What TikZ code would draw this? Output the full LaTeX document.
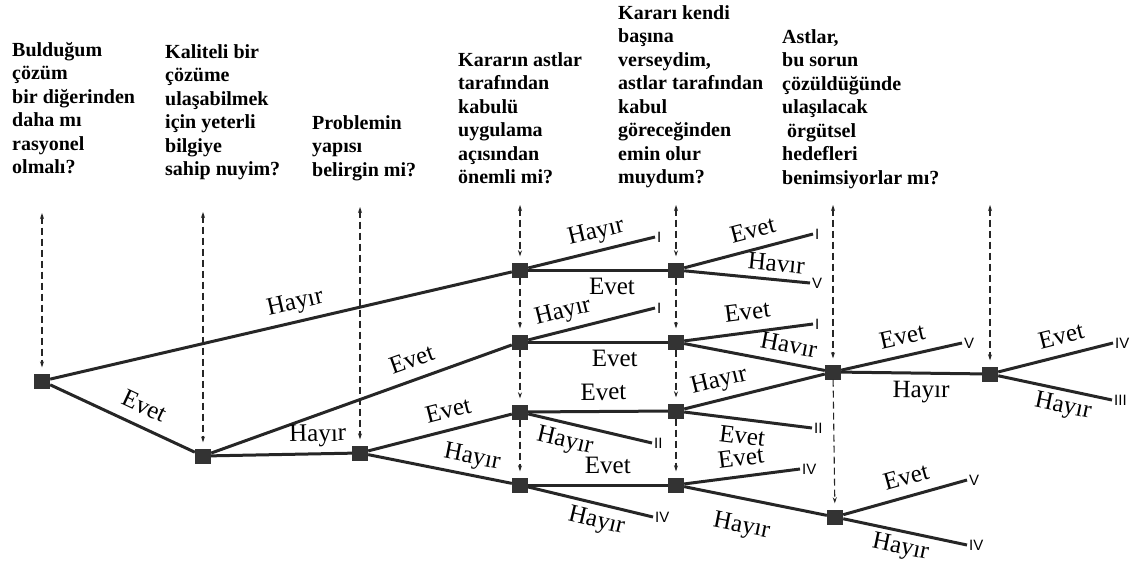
\documentclass[tikz,border=0pt]{standalone}
\usepackage{fontspec}
\setmainfont{Liberation Serif}
\newfontfamily\numfont{Liberation Sans}
\usetikzlibrary{arrows.meta}
\begin{document}
\begin{tikzpicture}[x=1pt,y=-1pt,
  dec/.style={rectangle, fill=black!80, minimum width=16pt, minimum height=15pt, inner sep=0pt},
  br/.style={line width=3pt, draw=black!85},
  lab/.style={font=\fontsize{25}{27}\selectfont, sloped, inner sep=0pt, text height=16pt, text depth=5pt},
  term/.style={font=\numfont\fontsize{15}{16}\selectfont, anchor=west, inner sep=2pt},
  qtext/.style={font=\bfseries\fontsize{20}{23.5}\selectfont, align=left, anchor=north west, inner sep=0pt},
  dl/.style={line width=1.1pt, dash pattern=on 7pt off 4pt, draw=black!85},
  tip/.style={-{Stealth[length=6pt,width=4pt]}, shorten >=6pt},
  tip2/.style={{Stealth[length=6pt,width=4pt]}-{Stealth[length=6pt,width=4pt]}, shorten >=6pt}
]
\useasboundingbox (0,0) rectangle (1139,565);

% questions
\node[qtext] (q1) at (12,42) {Bulduğum\\çözüm\\bir diğerinden\\daha mı\\rasyonel\\olmalı?};
\node[qtext] (q2) at (165,44) {Kaliteli bir\\çözüme\\ulaşabilmek\\için yeterli\\bilgiye\\sahip nuyim?};
\node[qtext] (q3) at (312,115) {Problemin\\yapısı\\belirgin mi?};
\node[qtext] (q4) at (458,52) {Kararın astlar\\tarafından\\kabulü\\uygulama\\açısından\\önemli mi?};
\node[qtext] (q5) at (618,5) {Kararı kendi\\başına\\verseydim,\\astlar tarafından\\kabul\\göreceğinden\\emin olur\\muydum?};
\node[qtext] (q6) at (782,29) {Astlar,\\bu sorun\\çözüldüğünde\\ulaşılacak\\\ örgütsel\\hedefleri\\benimsiyorlar mı?};

% decision nodes
\node[dec] (A) at (42,381) {};
\node[dec] (B) at (203,456) {};
\node[dec] (C) at (360,453) {};
\node[dec] (D1) at (520,270) {};
\node[dec] (D2) at (520,342) {};
\node[dec] (D3) at (520,412) {};
\node[dec] (D4) at (520,485) {};
\node[dec] (E1) at (676,270) {};
\node[dec] (E2) at (676,342) {};
\node[dec] (E3) at (676,411) {};
\node[dec] (E4) at (676,485) {};
\node[dec] (F1) at (833,372) {};
\node[dec] (F2) at (835,517) {};
\node[dec] (G) at (990,374) {};

% dashed column lines
\coordinate (tpA) at (42,213);
\coordinate (tpB) at (203,212);
\coordinate (tpC) at (360,207);
\coordinate (tpD) at (520,205);
\coordinate (tpE) at (676,205);
\coordinate (tpF) at (833,205);
\coordinate (tpG) at (990,205);
\draw[dl,tip2] (tpA) -- (A);
\draw[dl,tip2] (tpB) -- (B);
\draw[dl,tip2] (tpC) -- (C);
\draw[dl,tip2] (tpD) -- (D1);
\draw[dl,tip] (D1) -- (D2);
\draw[dl,tip] (D2) -- (D3);
\draw[dl,tip] (D3) -- (D4);
\draw[dl,tip2] (tpE) -- (E1);
\draw[dl,tip] (E1) -- (E2);
\draw[dl,tip] (E2) -- (E3);
\draw[dl,tip] (E3) -- (E4);
\draw[dl,tip2] (tpF) -- (F1);
\draw[dl,tip] (F1) -- (F2);
\draw[dl,tip2] (tpG) -- (G);

% terminal coordinates
\coordinate (tD1) at (655,237);
\coordinate (tD2) at (655,308);
\coordinate (tD3) at (652,443);
\coordinate (tD4) at (653,517);
\coordinate (tE1a) at (813,234);
\coordinate (tE1b) at (810,283);
\coordinate (tE2) at (813,324);
\coordinate (tE3) at (812,428);
\coordinate (tE4) at (800,469);
\coordinate (tF1) at (962,343);
\coordinate (tF2a) at (967,480);
\coordinate (tF2b) at (967,545);
\coordinate (tGa) at (1113,343);
\coordinate (tGb) at (1112,400);

% branches
\draw[br] (A) -- node[lab, pos=.54, above=6pt] (l1) {Hayır} (D1);
\draw[br] (A) -- node[lab, pos=.59, above=6pt] (l2) {Evet} (B);
\draw[br] (B) -- node[lab, pos=.69, above=6pt] (l3) {Evet} (D2);
\draw[br] (B) -- node[lab, pos=.76, above=6pt] (l4) {Hayır} (C);
\draw[br] (C) -- node[lab, pos=.59, above=5pt] (l5) {Evet} (D3);
\draw[br] (C) -- node[lab, pos=.70, above=5pt] (l6) {Hayır} (D4);
\draw[br] (D1) -- node[lab, pos=.57, above=6pt] (l7) {Hayır} (tD1);
\draw[br] (D1) -- node[lab, pos=.60, below=7pt] (l8) {Evet} (E1);
\draw[br] (D2) -- node[lab, pos=.31, above=6pt] (l9) {Hayır} (tD2);
\draw[br] (D2) -- node[lab, pos=.62, below=7pt] (l10) {Evet} (E2);
\draw[br] (D3) -- node[lab, pos=.54, above=5pt] (l11) {Evet} (E3);
\draw[br] (D3) -- node[lab, pos=.33, below=7pt] (l12) {Hayır} (tD3);
\draw[br] (D4) -- node[lab, pos=.57, above=5pt] (l13) {Evet} (E4);
\draw[br] (D4) -- node[lab, pos=.58, below=6pt] (l14) {Hayır} (tD4);
\draw[br] (E1) -- node[lab, pos=.57, above=5pt] (l15) {Evet} (tE1a);
\draw[br] (E1) -- node[lab, pos=.72, above=2pt] (l16) {Havır} (tE1b);
\draw[br] (E2) -- node[lab, pos=.51, above=6pt] (l17) {Evet} (tE2);
\draw[br] (E2) -- node[lab, pos=.72, above=4pt] (l18) {Havır} (F1);
\draw[br] (E3) -- node[lab, pos=.28, above=6pt] (l19) {Hayır} (F1);
\draw[br] (E3) -- node[lab, pos=.47, below=7pt] (l20) {Evet} (tE3);
\draw[br] (E4) -- node[lab, pos=.51, above=4pt] (l21) {Evet} (tE4);
\draw[br] (E4) -- node[lab, pos=.44, below=16pt] (l22) {Hayır} (F2);
\draw[br] (F1) -- node[lab, pos=.54, above=5pt] (l23) {Evet} (tF1);
\draw[br] (F1) -- node[lab, pos=.57, below=7pt] (l24) {Hayır} (G);
\draw[br] (F2) -- node[lab, pos=.55, above=5pt] (l25) {Evet} (tF2a);
\draw[br] (F2) -- node[lab, pos=.49, below=5pt] (l26) {Hayır} (tF2b);
\draw[br] (G) -- node[lab, pos=.59, above=5pt] (l27) {Evet} (tGa);
\draw[br] (G) -- node[lab, pos=.60, below=5pt] (l28) {Hayır} (tGb);

% terminal labels
\node[term] (n1) at (tD1) {I};
\node[term] (n2) at (tD2) {I};
\node[term] (n3) at (tD3) {II};
\node[term] (n4) at (tD4) {IV};
\node[term] (n5) at (tE1a) {I};
\node[term] (n6) at (tE1b) {V};
\node[term] (n7) at (tE2) {I};
\node[term] (n8) at (tE3) {II};
\node[term] (n9) at (tE4) {IV};
\node[term] (n10) at (tF1) {V};
\node[term] (n11) at (tF2a) {V};
\node[term] (n12) at (tF2b) {IV};
\node[term] (n13) at (tGa) {IV};
\node[term] (n14) at (tGb) {III};
\end{tikzpicture}
\end{document}
